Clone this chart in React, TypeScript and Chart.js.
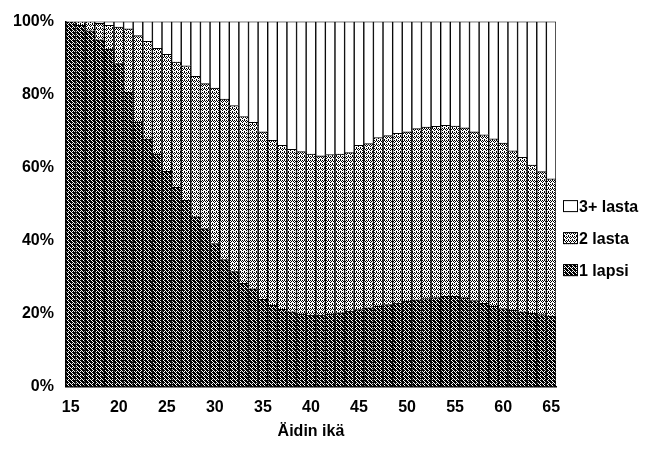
import React, { useEffect, useRef } from "react";
import { Chart, registerables } from "chart.js";

Chart.register(...registerables);

const ages = [
  "15", "16", "17", "18", "19", "20", "21", "22", "23", "24", "25", "26", "27", "28", "29", "30", "31",
  "32", "33", "34", "35", "36", "37", "38", "39", "40", "41", "42", "43", "44", "45", "46", "47", "48",
  "49", "50", "51", "52", "53", "54", "55", "56", "57", "58", "59", "60", "61", "62", "63", "64", "65",
];

const lapsi1 = [
  100, 99, 97.5, 95, 92.5, 88.5, 80.7, 72.5, 67.8, 63.7, 59, 54.6, 51, 46.5, 43.3, 39.2, 34.8,
  31.5, 28.3, 26.8, 23.9, 22.3, 21.2, 20.5, 19.9, 19.6, 19.6, 19.9, 20.2, 20.7, 21.1, 21.6, 22, 22.5,
  22.9, 23.4, 23.8, 24.1, 24.4, 24.7, 24.7, 24.3, 23.6, 22.8, 22, 21.4, 20.9, 20.5, 20.1, 19.7, 19.3,
];

const lasta2 = [
  0, 1, 2.5, 4.5, 6.5, 10, 17.3, 23.7, 26.8, 29, 32, 34.3, 36.9, 38.5, 39.7, 42.6, 44,
  45.5, 45.7, 45.6, 45.9, 45.2, 44.9, 44.5, 44.5, 44.1, 43.6, 43.7, 43.5, 43.4, 45, 45, 46.2, 46.3,
  46.5, 46.4, 46.9, 47, 46.9, 46.9, 46.7, 46.6, 46.2, 46.2, 45.9, 45.3, 43.7, 42.3, 40.6, 39.2, 37.6,
];

const lasta3 = [
  0, 0, 0, 0.5, 1, 1.5, 2, 3.8, 5.4, 7.3, 9, 11.1, 12.1, 15, 17, 18.2, 21.2,
  23, 26, 27.6, 30.2, 32.5, 33.9, 35, 35.6, 36.3, 36.8, 36.4, 36.3, 35.9, 33.9, 33.4, 31.8, 31.2,
  30.6, 30.2, 29.3, 28.9, 28.7, 28.4, 28.6, 29.1, 30.2, 31, 32.1, 33.3, 35.4, 37.2, 39.3, 41.1, 43.1,
];

const seriesNames = ["1 lapsi", "2 lasta", "3+ lasta"];
const xTitle = "Äidin ikä";
const yTickStep = 20;

function makePattern(rows: string[], ink: string, paper: string): CanvasPattern | string {
  const c = document.createElement("canvas");
  c.width = rows[0].length;
  c.height = rows.length;
  const g = c.getContext("2d");
  if (!g) return ink;
  g.fillStyle = paper;
  g.fillRect(0, 0, c.width, c.height);
  g.fillStyle = ink;
  rows.forEach((r, y) => {
    for (let x = 0; x < r.length; x++) if (r[x] === "X") g.fillRect(x, y, 1, 1);
  });
  const p = g.createPattern(c, "repeat");
  return p || ink;
}

const FONT = "'Liberation Sans', Arial, sans-serif";

const sideLegend = {
  id: "sideLegend",
  afterDraw(chart: any) {
    const { ctx, chartArea } = chart;
    const ds = chart.data.datasets.slice().reverse();
    const mid = (chartArea.top + chartArea.bottom) / 2 + 34;
    const step = 32;
    const x0 = chartArea.right + 7;
    ctx.save();
    ctx.font = `bold 16px ${FONT}`;
    ctx.textBaseline = "middle";
    ctx.textAlign = "left";
    ds.forEach((d: any, i: number) => {
      const cy = mid + (i - (ds.length - 1) / 2) * step;
      ctx.fillStyle = d.backgroundColor;
      ctx.fillRect(x0, cy - 6, 15, 12);
      ctx.strokeStyle = "#000";
      ctx.lineWidth = 1;
      ctx.strokeRect(x0 + 0.5, cy - 5.5, 14, 11);
      ctx.fillStyle = "#000";
      ctx.fillText(d.label, x0 + 16, cy + 1);
    });
    ctx.restore();
  },
};

export default function App() {
  const ref = useRef<HTMLCanvasElement | null>(null);

  useEffect(() => {
    if (!ref.current) return;
    const dark = makePattern(["XXX.", ".XXX", "X.XX", ".X.X"], "#000", "#fff");
    const light = makePattern(["X.X.", ".X.X", "..X.", "X..."], "#000", "#fff");
    const chart = new Chart(ref.current, {
      type: "bar",
      data: {
        labels: ages,
        datasets: [
          { label: seriesNames[0], data: lapsi1, backgroundColor: dark, borderColor: "#000", borderWidth: 1 },
          { label: seriesNames[1], data: lasta2, backgroundColor: light, borderColor: "#000", borderWidth: 1 },
          { label: seriesNames[2], data: lasta3, backgroundColor: "#fff", borderColor: "#000", borderWidth: 1 },
        ],
      },
      plugins: [sideLegend],
      options: {
        animation: false,
        responsive: false,
        devicePixelRatio: 1,
        layout: { padding: { left: 1, right: 116, top: 14, bottom: 14 } },
        datasets: { bar: { barPercentage: 1, categoryPercentage: 1 } },
        plugins: {
          tooltip: { enabled: false },
          legend: { display: false },
        },
        scales: {
          x: {
            stacked: true,
            grid: { display: false, drawTicks: false, tickLength: 0 },
            border: { display: true, color: "#000", width: 1.5 },
            ticks: {
              color: "#000",
              autoSkip: false,
              maxRotation: 0,
              padding: 11,
              font: { family: FONT, size: 16, weight: "bold" },
              callback: (_v: any, i: number) => (Number(ages[i]) % 5 === 0 ? ages[i] : ""),
            },
            title: {
              display: true,
              text: xTitle,
              color: "#000",
              padding: { top: -6, bottom: 0 },
              font: { family: FONT, size: 16, weight: "bold" },
            },
          },
          y: {
            stacked: true,
            min: 0,
            max: 100,
            grid: { display: false, drawTicks: false, tickLength: 0 },
            border: { display: true, color: "#000", width: 1.5 },
            ticks: {
              stepSize: yTickStep,
              color: "#000",
              padding: 12,
              font: { family: FONT, size: 16, weight: "bold" },
              callback: (v: any) => v + "%",
            },
          },
        },
      },
    });
    return () => chart.destroy();
  }, []);

  return (
    <div style={{ position: "fixed", left: 0, top: 0, width: 672, height: 455, background: "#fff" }}>
      <canvas ref={ref} width={672} height={455} style={{ display: "block", width: 672, height: 455 }} />
    </div>
  );
}
